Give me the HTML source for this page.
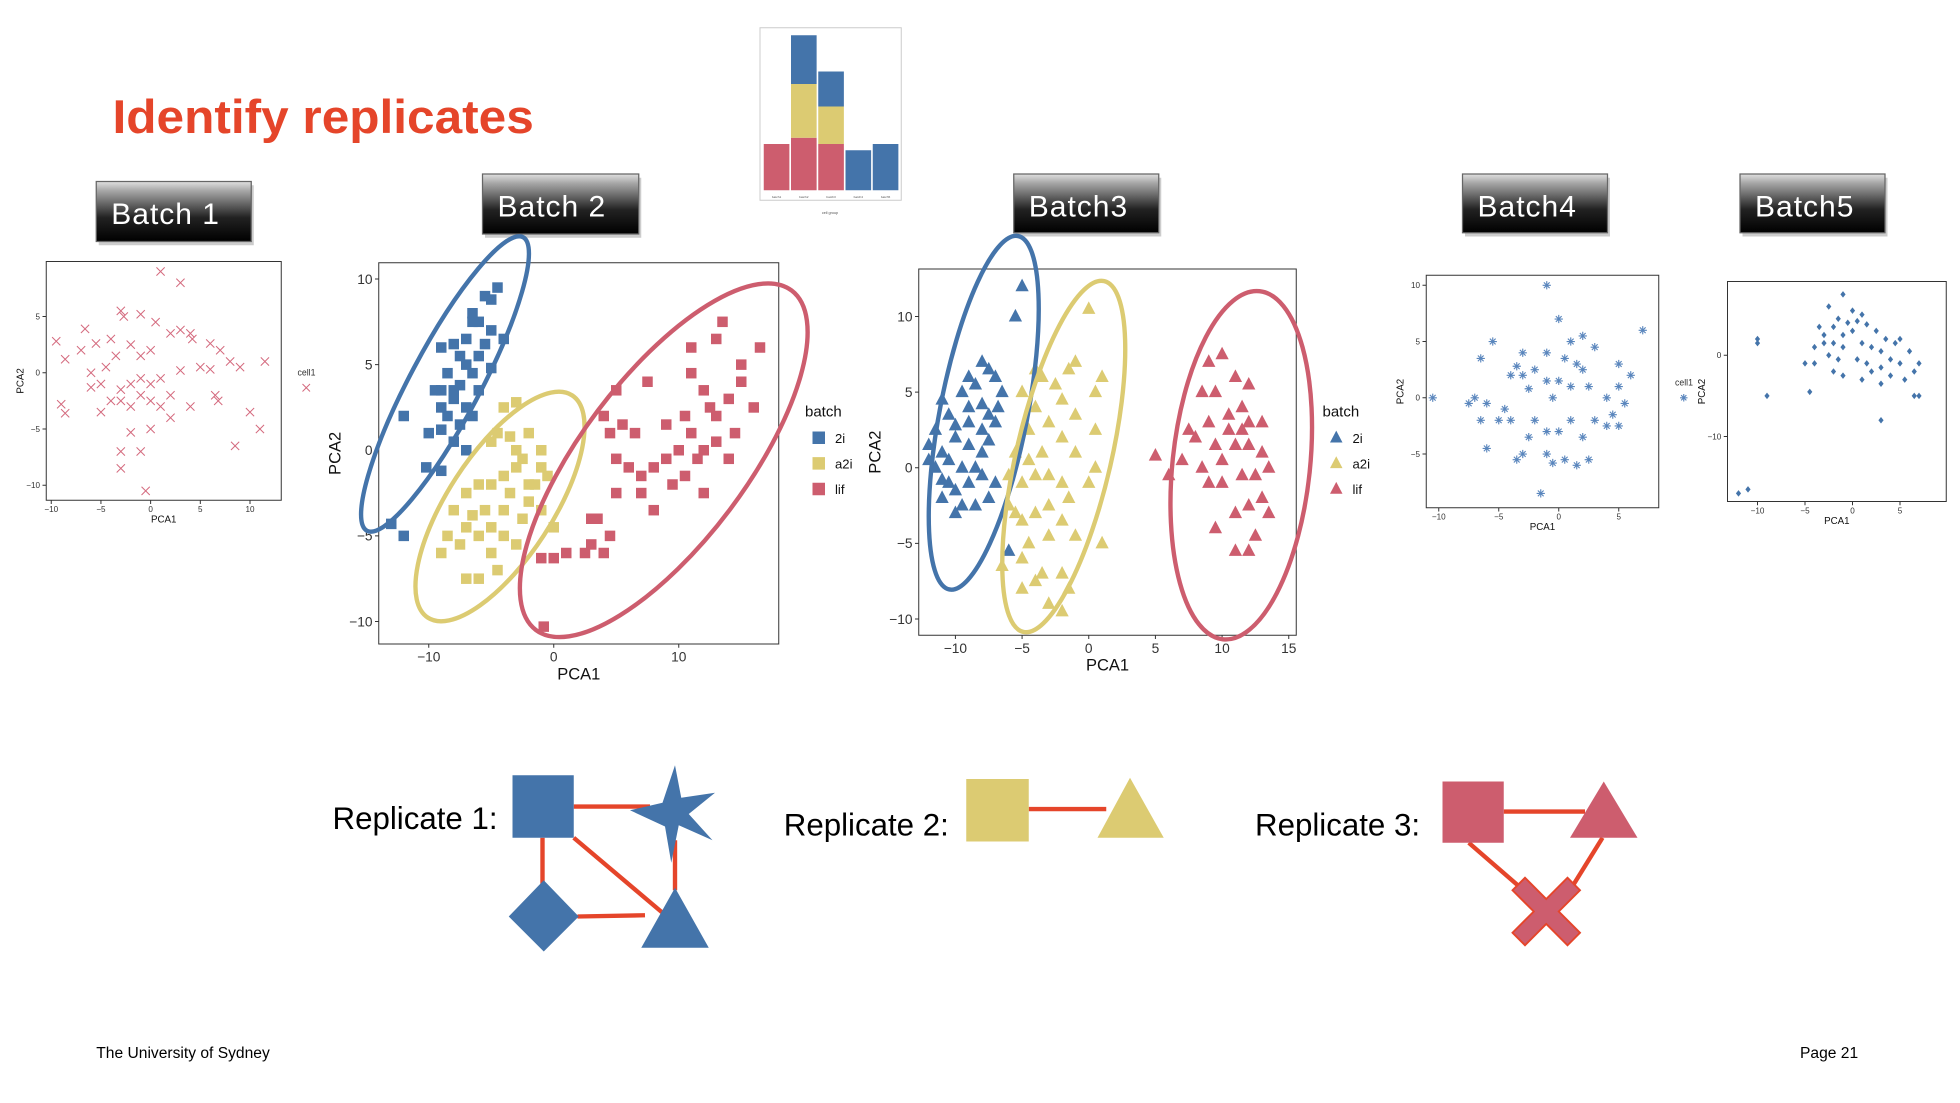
<!DOCTYPE html>
<html><head><meta charset="utf-8"><style>
html,body{margin:0;padding:0;background:#fff;}
svg{display:block;font-family:"Liberation Sans",sans-serif;}
</style></head><body>
<svg id="s" width="1960" height="1103" viewBox="0 0 1568 882" xmlns="http://www.w3.org/2000/svg">
<defs>
<linearGradient id="btn" x1="0" y1="0" x2="0" y2="1">
<stop offset="0" stop-color="#e0e0e0"/><stop offset="0.15" stop-color="#a8a8a8"/><stop offset="0.6" stop-color="#222"/><stop offset="1" stop-color="#000"/>
</linearGradient>
</defs>
<text x="90" y="106" font-size="38" font-weight="bold" fill="#e5452a" textLength="337" lengthAdjust="spacingAndGlyphs">Identify replicates</text>
<g id="buttons"></g>
<g id="inset"></g>
<g id="plots"></g>
<g id="reps"></g>
<text x="77" y="846" font-size="12.5" fill="#000">The University of Sydney</text>
<text x="1440" y="846" font-size="12.5" fill="#000">Page 21</text>
</svg>
<script>
const NS="http://www.w3.org/2000/svg";
const BLUE="#4474aa",YEL="#dccb72",RED="#cd5d6e",LINE="#e5452a";
// ---- data ----
const batch1Cells=[[1,9],[3,8],[-9.5,2.8],[-8.6,1.2],[-9,-2.8],[-8.6,-3.6],[-6.6,3.9],[-3,5.5],[-2.7,5],[-1,5.2],[0.5,4.5],[-4,3],[-2,2.5],[-3.5,1.5],[-4.5,0.5],[-1,1.5],[0,2],[2,3.5],[3,3.8],[4,3.5],[4.2,3],[6,2.6],[7,2],[8,1],[5,0.5],[6,0.3],[3,0.2],[1,-0.5],[0,-1],[-1,-0.5],[-2,-1],[-3,-1.5],[-5,-1],[-6,-1.3],[-4,-2.5],[-3,-2.5],[-2,-3],[-5,-3.5],[-1,-2],[0,-2.5],[1,-3],[2,-2],[4,-3],[6.5,-2],[6.8,-2.5],[9,0.5],[11.5,1],[10,-3.5],[11,-5],[8.5,-6.5],[-1,-7],[-3,-7],[0,-5],[-2,-5.3],[-3,-8.5],[-0.5,-10.5],[2,-4],[-6,0],[-7,2],[-5.5,2.6]];
const batch2_2i=[[-4.5,9.5],[-5,8.8],[-5.5,9],[-6,7.5],[-5,7],[-6.5,8],[-7,6.5],[-5.5,6.2],[-4,6.5],[-6,5.5],[-7.5,5.5],[-8,6.2],[-9,6],[-7,5],[-8.5,4.5],[-6.5,4.5],[-5,4.8],[-9,3.5],[-7.5,3.8],[-6,3.5],[-8,3],[-9.5,3.5],[-7,2.5],[-8.5,2],[-9,1.2],[-7.5,1.5],[-6.5,2],[-10,1],[-8,0.5],[-9,2.5],[-7,0],[-12,2],[-10.2,-1],[-9,-1.2],[-13,-4.3],[-12,-5],[-8,3.5],[-6.5,7.5]];
const batch2_a2i=[[-4,2.5],[-3,2.8],[-3.5,0.8],[-4.5,1],[-2,1],[-1,0],[-2.5,-0.5],[-5,0.5],[-3,-1],[-0.5,-1.5],[-1.5,-2],[-4,-1.5],[-5,-2],[-6,-2],[-7,-2.5],[-3.5,-2.5],[-2,-3],[-1,-3.5],[-2.5,-4],[-4,-3.5],[-5.5,-3.5],[-6.5,-3.8],[-7,-4.5],[-5,-4.5],[-4,-5],[-3,-5.5],[-6,-5],[-7.5,-5.5],[-5,-6],[-4.5,-7],[-6,-7.5],[-7,-7.5],[-9,-6],[-8.5,-5],[-8,-3.5],[-2,-2],[0,-4.5],[-1,-1],[-3,0]];
const batch2_lif=[[13.5,7.5],[16.5,6],[13,6.5],[11,4.5],[12,3.5],[14,3],[15,4],[16,2.5],[13,2],[12.5,2.5],[10.5,2],[11,1],[12,0],[13,0.5],[14.5,1],[10,0],[9,-0.5],[8,-1],[7,-1.5],[7,-2.5],[8,-3.5],[9.5,-2],[10.5,-1.5],[11.5,-0.5],[12,-2.5],[5,-0.5],[4.5,1],[4,2],[5.5,1.5],[6.5,1],[6,-1],[5,-2.5],[3.5,-4],[3,-5.5],[4,-6],[2.5,-6],[1,-6],[0,-6.3],[-1,-6.3],[4.5,-5],[5,3.5],[7.5,4],[11,6],[15,5],[-0.8,-10.3],[3,-4],[9,1.5],[14,-0.5]];
const batch3_2i=[[-5,12],[-5.5,10],[-8,7],[-7.5,6.5],[-9,6],[-8.5,5.5],[-7,6],[-6.5,5],[-9.5,5],[-11,4.5],[-10.5,3.5],[-9,4],[-8,4.2],[-7.5,3.5],[-6.8,4],[-10,2.8],[-9,3],[-8,2.5],[-7,3],[-11.5,2.5],[-12,1.5],[-11,1],[-10,2],[-9,1.5],[-8,1],[-7.5,1.8],[-11.5,0],[-10.5,0.5],[-9.5,0],[-8.5,0],[-11,-0.8],[-10,-1.5],[-9,-1],[-8,-0.5],[-11,-2],[-9.5,-2.5],[-8.5,-2.5],[-10,-3],[-7.5,-2],[-6,-5.5],[-7,-1],[-12,0.5],[-10.5,-1]];
const batch3_a2i=[[0,10.5],[-1,7],[-1.5,6.5],[-4,6.5],[-3.5,6],[-2.5,5.5],[1,6],[0.5,5],[-2,4.5],[-5,5],[-4,4],[-1,3.5],[0.5,2.5],[-3,3],[-4.5,2.5],[-2,2],[-1,1],[0.5,0],[-3.5,1],[-4.5,0.5],[-5.5,1],[-6,-0.5],[-5,-1],[-4,-0.5],[-3,-0.5],[-2,-1],[-1.5,-2],[-3,-2.5],[-4,-3],[-5.5,-3],[-6,-2.5],[-2,-3.5],[-1,-4.5],[-3,-4.5],[-4.5,-5],[-5,-6],[-3.5,-7],[-4,-7.5],[-5,-8],[-2,-7],[-1.5,-8],[-3,-9],[-2,-9.5],[-6.5,-6.5],[-5,-3.5],[1,-5],[0,-1]];
const batch3_lif=[[9,7],[10,7.5],[9.5,5],[11,6],[8.5,5],[12,5.5],[11.5,4],[13,3],[12,3],[10.5,2.5],[9,3],[8,2],[7.5,2.5],[9.5,1.5],[11,1.5],[12,1.5],[13,1],[10,0.5],[8.5,0],[7,0.5],[5,0.8],[6,-0.5],[9,-1],[10,-1],[11.5,-0.5],[12.5,-0.5],[13,-2],[12,-2.5],[11,-3],[13.5,-3],[9.5,-4],[11,-5.5],[12,-5.5],[12.5,-4.5],[10.5,3.5],[11.5,2.5],[13.5,0]];
const batch4Cells=[[-1,10],[0,7],[-5.5,5],[-3,4],[-6.5,3.5],[1,5],[2,5.5],[3,4.5],[7,6],[-1,4],[0.5,3.5],[1.5,3],[2,2.5],[5,3],[6,2],[-2,2.5],[-3,2],[-4,2],[-1,1.5],[0,1.5],[-0.5,0],[1,1],[2.5,1],[4,0],[5.5,-0.5],[4.5,-1.5],[5,-2.5],[-4.5,-1],[-6,-0.5],[-7,0],[-5,-2],[-4,-2],[-6.5,-2],[-7.5,-0.5],[-10.5,0],[-2,-2],[-1,-3],[0,-3],[1,-2],[2,-3.5],[3,-2],[4,-2.5],[-6,-4.5],[-2.5,-3.5],[-3,-5],[-1,-5],[-0.5,-5.8],[0.5,-5.5],[1.5,-6],[2.5,-5.5],[-3.5,-5.5],[-1.5,-8.5],[5,1],[-2.5,0.8],[-3.5,2.8]];
const batch5Cells=[[-1,7.5],[-2.5,6],[0,5.5],[1,5],[-1.5,4.5],[-0.5,4],[0.5,4.2],[-2,3.5],[1.5,3.8],[2.5,3],[-3.5,3.5],[-3,2.5],[-1,2.5],[0,3],[3.5,2],[5,2],[4.5,1.5],[-4,1],[-3,1.5],[-2,1.5],[-1,1],[1,1.5],[2,1],[3,0.5],[6,0.5],[-2.5,0],[-1.5,-0.5],[0.5,-0.5],[1.5,-1],[2,-2],[3,-1.5],[4,-0.5],[5,-1],[6.5,-2],[7,-1],[4,-2.5],[5.5,-3],[3,-3.5],[-4,-1],[-5,-1],[-2,-2],[-1,-2.5],[1,-3],[-10,2],[-10,1.5],[-9,-5],[-4.5,-4.5],[3,-8],[-12,-17],[-11,-16.5],[7,-5],[6.5,-5]];
const insetCategories=["batch1","batch2","batch3","batch4","batch5"];
const insetRed=[37,42,37,0,0];
const insetYellow=[0,43,30,0,0];
const insetBlue=[0,39,28,32,37];

const root=document.getElementById('s');
function el(tag,attrs,parent,text){const e=document.createElementNS(NS,tag);for(const k in attrs)e.setAttribute(k,attrs[k]);if(text!=null)e.textContent=text;(parent||root).appendChild(e);return e;}
function lin(d0,d1,r0,r1){return v=>r0+(v-d0)*(r1-r0)/(d1-d0);}

// ---- buttons ----
const btns=[["Batch 1",77,145,124,48],["Batch 2",386,139,125,48],["Batch3",811,139,116,47],["Batch4",1170,139,116,47],["Batch5",1392,139,116,47]];
const bg=document.getElementById('buttons');
btns.forEach(b=>{
 const g=el('g',{},bg);
 
 
 el('rect',{x:b[1]+2,y:b[2]+3,width:b[3],height:b[4],fill:'#ccc'},g);
 el('rect',{x:b[1],y:b[2],width:b[3],height:b[4],fill:'url(#btn)',stroke:'#666','stroke-width':1},g);
 el('text',{x:b[1]+12,y:b[2]+34,'font-size':24,fill:'#fff','letter-spacing':0.8},g,b[0]);
});

// ---- inset bar chart ----
const ig=document.getElementById('inset');


el('rect',{x:608,y:22,width:113,height:138,fill:'#fff',stroke:'#ccc','stroke-width':0.8},ig);
insetCategories.forEach((c,i)=>{
 const x=611+i*21.8,w=20.5;let base=152;
 [[insetRed[i],RED],[insetYellow[i],YEL],[insetBlue[i],BLUE]].forEach(([v,col])=>{
  if(v<=0)return;
  const r=el('rect',{x:x,y:base-v,width:w,height:v,fill:col},ig);
  
  
  base-=v;
 });
 el('text',{x:x+w/2,y:158,'font-size':2.5,'text-anchor':'middle',fill:'#555'},ig,c);
});
el('text',{x:664,y:171,'font-size':3,'text-anchor':'middle',fill:'#555'},ig,"cell group");

// ---- plots ----
const pg=document.getElementById('plots');
function marker(type,x,y,col,g,s){
 let m;
 if(type==='sq') m=el('rect',{x:x-s,y:y-s,width:2*s,height:2*s,fill:col},g);
 else if(type==='tri') m=el('polygon',{points:`${x},${y-s*1.15} ${x-s},${y+s*0.75} ${x+s},${y+s*0.75}`,fill:col},g);
 else if(type==='x') m=el('path',{d:`M${x-s},${y-s}L${x+s},${y+s}M${x-s},${y+s}L${x+s},${y-s}`,stroke:col,'stroke-width':0.8,fill:'none'},g);
 else if(type==='star') m=el('path',{d:`M${x-s},${y}H${x+s}M${x},${y-s}V${y+s}M${x-s*.7},${y-s*.7}L${x+s*.7},${y+s*.7}M${x-s*.7},${y+s*.7}L${x+s*.7},${y-s*.7}`,stroke:col,'stroke-width':0.9,fill:'none'},g);
 else if(type==='dia') m=el('polygon',{points:`${x},${y-s} ${x+s*.8},${y} ${x},${y+s} ${x-s*.8},${y}`,fill:col},g);
 
 
}
function plot(cfg){
 const g=el('g',{},pg);
 
 
 const sx=lin(cfg.xd[0],cfg.xd[1],cfg.xr[0],cfg.xr[1]),sy=lin(cfg.yd[0],cfg.yd[1],cfg.yr[0],cfg.yr[1]);
 el('rect',{x:cfg.box[0],y:cfg.box[1],width:cfg.box[2],height:cfg.box[3],fill:'#fff',stroke:'#333','stroke-width':0.8},g);
 const fs=cfg.fs;
 cfg.xt.forEach(t=>{const x=sx(t);el('line',{x1:x,x2:x,y1:cfg.box[1]+cfg.box[3],y2:cfg.box[1]+cfg.box[3]+3,stroke:'#333','stroke-width':0.8},g);
  el('text',{x:x,y:cfg.box[1]+cfg.box[3]+3+fs,'font-size':fs,'text-anchor':'middle',fill:'#333'},g,t<0?'\u2212'+(-t):String(t));});
 cfg.yt.forEach(t=>{const y=sy(t);el('line',{x1:cfg.box[0]-3,x2:cfg.box[0],y1:y,y2:y,stroke:'#333','stroke-width':0.8},g);
  el('text',{x:cfg.box[0]-5,y:y+fs*0.35,'font-size':fs,'text-anchor':'end',fill:'#333'},g,t<0?'\u2212'+(-t):String(t));});
 const xl=el('text',{x:cfg.box[0]+cfg.box[2]/2,y:cfg.box[1]+cfg.box[3]+3+fs*2.3,'font-size':fs*1.2,'text-anchor':'middle',fill:'#111'},g,'PCA1');
 
 const yx=cfg.box[0]-fs*2.8,yy=cfg.box[1]+cfg.box[3]/2;
 const yl=el('text',{x:yx,y:yy,'font-size':fs*1.2,'text-anchor':'middle',fill:'#111',transform:`rotate(-90 ${yx} ${yy})`},g,'PCA2');
 
 cfg.series.forEach(s=>s.data.forEach(p=>marker(s.m,sx(p[0]),sy(p[1]),s.col,g,s.size)));
 (cfg.ell||[]).forEach(e=>{const c=el('ellipse',{cx:e[0],cy:e[1],rx:e[2],ry:e[3],transform:`rotate(${e[4]} ${e[0]} ${e[1]})`,fill:'none',stroke:e[5],'stroke-width':3.5},g);
  });
 if(cfg.legend){const L=cfg.legend;
  const lt=el('text',{x:L.x,y:L.y,'font-size':12,fill:'#111'},g,'batch');
  
  cfg.series.forEach((s,i)=>{const y=L.y+17+i*20.5;marker(s.m,L.x+11,y,s.col,g,5);
   const t=el('text',{x:L.x+24,y:y+4,'font-size':10.5,fill:'#111'},g,s.label);
   });}
 return g;
}
plot({name:'batch1-pca-plot',box:[37,209,188,191],xd:[0,10],xr:[120.5,200],yd:[0,5],yr:[298,253],xt:[-10,-5,0,5,10],yt:[-10,-5,0,5],fs:6.5,
 series:[{data:batch1Cells,m:'x',col:'#d46a7e',size:3.3}]});
el('text',{x:238,y:300,'font-size':7,fill:'#333'},root,'cell1');
marker('x',245,310,'#d46a7e',root,3);
plot({name:'batch2-pca-plot',box:[303,210,320,305],xd:[0,10],xr:[443,543],yd:[0,10],yr:[360,223],xt:[-10,0,10],yt:[-10,-5,0,5,10],fs:11,
 series:[{data:batch2_2i,m:'sq',col:BLUE,size:4.2,label:'2i'},{data:batch2_a2i,m:'sq',col:YEL,size:4.2,label:'a2i'},{data:batch2_lif,m:'sq',col:RED,size:4.2,label:'lif'}],
 ell:[[356,307,133,28,-62,BLUE],[400,405,106,42,-57,YEL],[531,368,170,66,-53,RED]],legend:{x:644,y:333}});
plot({name:'batch3-pca-plot',box:[735,215,302,293],xd:[0,15],xr:[871,1031],yd:[0,10],yr:[374,253],xt:[-10,-5,0,5,10,15],yt:[-10,-5,0,5,10],fs:11,
 series:[{data:batch3_2i,m:'tri',col:BLUE,size:5.3,label:'2i'},{data:batch3_a2i,m:'tri',col:YEL,size:5.3,label:'a2i'},{data:batch3_lif,m:'tri',col:RED,size:5.3,label:'lif'}],
 ell:[[787,330,144,35,-79,BLUE],[851,365,144,38,-77,YEL],[993,372,140,55,-84,RED]],legend:{x:1058,y:333}});
plot({name:'batch4-pca-plot',box:[1141,220,186,186],xd:[0,5],xr:[1247,1295],yd:[0,5],yr:[318,273],xt:[-10,-5,0,5],yt:[-5,0,5,10],fs:6.5,
 series:[{data:batch4Cells,m:'star',col:'#5a86bd',size:3.3}]});
el('text',{x:1340,y:308,'font-size':7,fill:'#333'},root,'cell1');
marker('star',1347,318,'#5a86bd',root,3);
plot({name:'batch5-pca-plot',box:[1382,225,175,176],xd:[0,5],xr:[1482,1520],yd:[0,10],yr:[284,219],xt:[-10,-5,0,5],yt:[-10,0],fs:6.5,
 series:[{data:batch5Cells,m:'dia',col:BLUE,size:2.6}]});

// ---- replicate diagrams ----
const rg=document.getElementById('reps');
function grp(name){const g=el('g',{},rg);return g;}
const lw=3.5;
let g1=grp('replicate-1');
el('text',{x:266,y:663,'font-size':25,fill:'#000'},g1,'Replicate 1:');
[[459,645,520,645],[434,670,434,708],[462,733,516,732],[459,670,530,730],[540,672,540,712]].forEach(l=>el('line',{x1:l[0],y1:l[1],x2:l[2],y2:l[3],stroke:LINE,'stroke-width':lw},g1));
el('rect',{x:410,y:620,width:49,height:50,fill:BLUE},g1);
el('polygon',{points:'540,612 545,638 572,634 551,651 570,672 543,660 537,690 532,661 504,648 530,642',fill:BLUE},g1);
el('polygon',{points:'435,704 463,733 435,761 407,733',fill:BLUE},g1);
el('polygon',{points:'540,710 567,758 513,758',fill:BLUE},g1);
let g2=grp('replicate-2');
el('text',{x:627,y:668,'font-size':25,fill:'#000'},g2,'Replicate 2:');
el('line',{x1:823,y1:647,x2:885,y2:647,stroke:LINE,'stroke-width':lw},g2);
el('rect',{x:773,y:623,width:50,height:50,fill:YEL},g2);
el('polygon',{points:'904,622 931,670 878,670',fill:YEL},g2);
let g3=grp('replicate-3');
el('text',{x:1004,y:668,'font-size':25,fill:'#000'},g3,'Replicate 3:');
[[1203,649,1268,649],[1175,674,1220,713],[1282,670,1256,712]].forEach(l=>el('line',{x1:l[0],y1:l[1],x2:l[2],y2:l[3],stroke:LINE,'stroke-width':lw},g3));
el('rect',{x:1154,y:625,width:49,height:49,fill:RED},g3);
el('polygon',{points:'1283,625 1310,670 1256,670',fill:RED},g3);
const cx=1237,cy=729,a=10,b=27;
el('polygon',{points:`${cx},${cy-a} ${cx+b-a},${cy-b} ${cx+b},${cy-b+a} ${cx+a},${cy} ${cx+b},${cy+b-a} ${cx+b-a},${cy+b} ${cx},${cy+a} ${cx-b+a},${cy+b} ${cx-b},${cy+b-a} ${cx-a},${cy} ${cx-b},${cy-b+a} ${cx-b+a},${cy-b}`,fill:RED,stroke:LINE,'stroke-width':1.5},g3);
</script>
</body></html>
